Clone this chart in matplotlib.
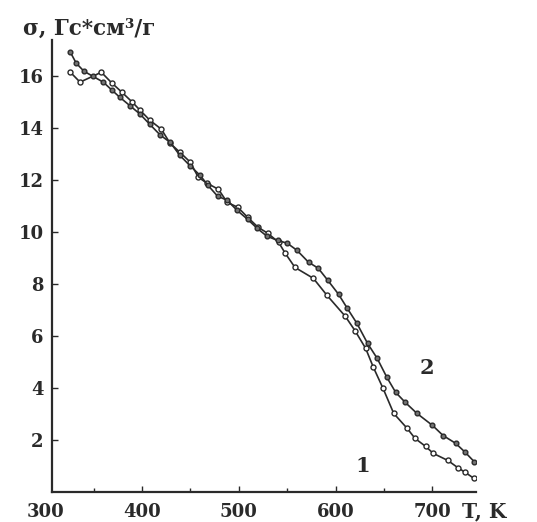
import matplotlib
matplotlib.use("Agg")
import matplotlib.pyplot as plt
from matplotlib.ticker import MultipleLocator

# curve 1 (open circles, falls lower at high T)
t1 = [326, 336, 358, 369, 379, 390, 398, 408, 420, 429, 439, 450, 458, 467,
      479, 488, 499, 509, 520, 530, 541, 548, 558, 577, 591, 610, 620, 631,
      639, 649, 660, 674, 682, 693, 701, 716, 726, 734, 743]
s1 = [16.13, 15.75, 16.13, 15.71, 15.37, 14.98, 14.67, 14.29, 13.94, 13.40,
      13.06, 12.67, 12.10, 11.87, 11.63, 11.13, 10.94, 10.56, 10.17, 9.94,
      9.60, 9.17, 8.63, 8.21, 7.56, 6.75, 6.20, 5.52, 4.79, 3.98, 3.02, 2.44,
      2.06, 1.75, 1.48, 1.21, 0.94, 0.75, 0.52]

# curve 2 (darker circles, stays higher at high T)
t2 = [326, 332, 340, 349, 360, 369, 377, 388, 398, 408, 419, 429, 439, 450,
      460, 468, 478, 488, 498, 509, 519, 529, 540, 550, 560, 572, 582, 592,
      603, 612, 622, 633, 643, 653, 662, 672, 684, 700, 711, 724, 734, 743]
s2 = [16.90, 16.48, 16.17, 15.98, 15.75, 15.44, 15.17, 14.83, 14.52, 14.13,
      13.71, 13.44, 12.94, 12.52, 12.17, 11.79, 11.37, 11.21, 10.83, 10.48,
      10.13, 9.83, 9.67, 9.56, 9.29, 8.83, 8.60, 8.13, 7.60, 7.06, 6.48, 5.71,
      5.13, 4.40, 3.83, 3.44, 3.02, 2.56, 2.17, 1.87, 1.52, 1.17]

x_ticks = [400, 500, 600, 700]
y_ticks = [2, 4, 6, 8, 10, 12, 14, 16]

FONT = "DejaVu Serif"
INK = "#2a2a2a"
bold = dict(fontweight="bold", family=FONT, color=INK)

fig = plt.figure(figsize=(5.37, 5.22), dpi=100)
ax = fig.add_axes([0.0968, 0.0575, 0.7896, 0.8659])

ax.plot(t1, s1, "-o", color=INK, lw=1.2, ms=3.6, mfc="white", mec=INK, mew=1.0)
ax.plot(t2, s2, "-o", color=INK, lw=1.2, ms=3.4, mfc="0.45", mec=INK, mew=1.0)

ax.set_xlim(307, 745)
ax.set_ylim(0, 17.37)

for side in ("top", "right"):
    ax.spines[side].set_visible(False)
for side in ("left", "bottom"):
    ax.spines[side].set_linewidth(1.6)
    ax.spines[side].set_color(INK)

ax.set_xticks(x_ticks)
ax.xaxis.set_minor_locator(MultipleLocator(50))
ax.set_yticks(y_ticks)
ax.tick_params(axis="both", which="both", direction="in", color=INK)
ax.tick_params(axis="x", which="major", length=4, width=1.0, pad=8)
ax.tick_params(axis="x", which="minor", length=3, width=1.0)
ax.tick_params(axis="y", which="major", length=4, width=1.0, pad=6)

for lab in ax.get_xticklabels() + ax.get_yticklabels():
    lab.set_fontsize(13)
    lab.set(**bold)

# "300" sits just left of the y axis, outside the x range
ax.annotate("300", xy=(300, 0), xycoords=("data", "axes fraction"),
            xytext=(0, -8), textcoords="offset points", ha="center", va="top",
            fontsize=13, annotation_clip=False, **bold)

fig.text(0.860, 0.021, "T, K", ha="left", va="center", fontsize=14.5, **bold)
fig.text(0.043, 0.944, "σ, Гс*см³/г", ha="left", va="center", fontsize=15.5,
         **bold)

ax.text(628, 0.98, "1", ha="center", va="center", fontsize=15, **bold)
ax.text(694, 4.75, "2", ha="center", va="center", fontsize=15, **bold)

fig.savefig("out.png", dpi=100)
